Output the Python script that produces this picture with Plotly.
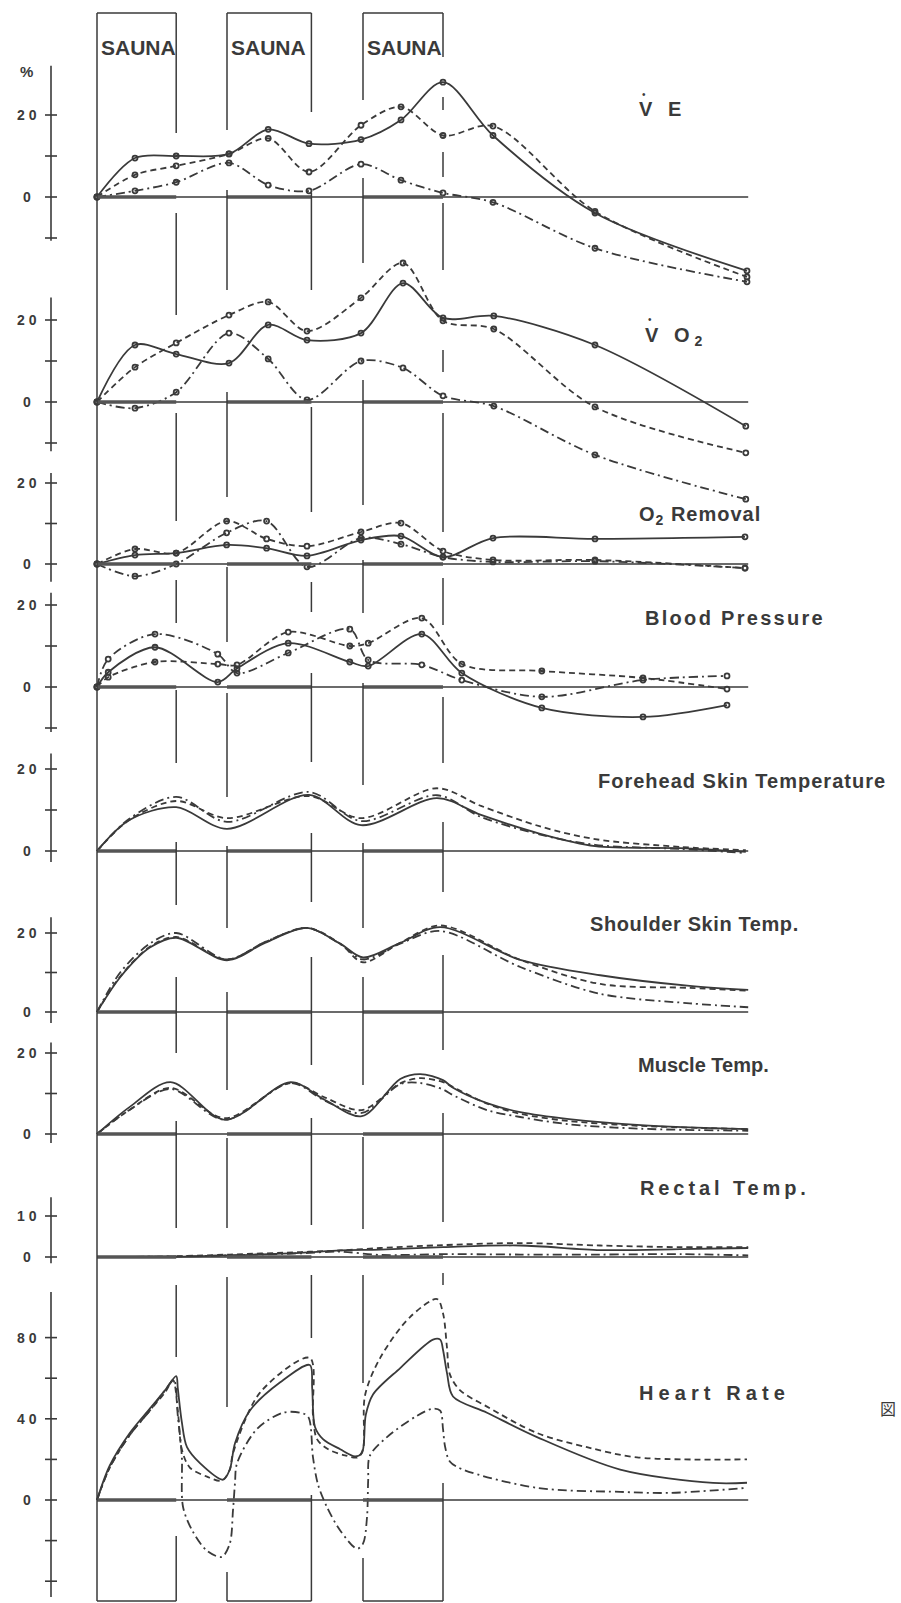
import plotly.graph_objects as go

W, H = 901, 1603
INK = "#3a3a3a"

# ---------------- data (time in minutes, values in % change) ----------------
SAUNA = [(0.0, 9.9), (16.25, 26.8), (33.25, 43.25)]
T_END = 81.4

ve_t = [0, 4.75, 9.9, 16.5, 21.4, 26.5, 33, 38, 43.25, 49.5, 62.25, 81.25]
ve_solid = [0, 9.5, 10, 10.5, 16.5, 13, 14, 18.8, 28, 15, -3.9, -18]
ve_dash = [0, 5.4, 7.6, 10.5, 14.3, 6.1, 17.5, 22, 15, 17.3, -3.5, -19.5]
ve_dot = [0, 1.5, 3.6, 8.3, 2.9, 1.5, 8, 4.1, 1, -1.3, -12.5, -20.7]

vo2_t = [0, 4.75, 9.9, 16.5, 21.4, 26.25, 33, 38.25, 43.25, 49.6, 62.25, 81.1]
vo2_solid = [0, 13.9, 11.7, 9.5, 18.8, 15.1, 16.8, 29, 20.5, 21, 13.9, -5.9]
vo2_dash = [0, 8.5, 14.4, 21.2, 24.4, 17.3, 25.4, 33.9, 19.8, 17.8, -1.2, -12.4]
vo2_dot = [0, -1.5, 2.4, 16.8, 10.5, 0.5, 10, 8.3, 1.5, -1, -12.9, -23.7]

o2_t = [0, 4.75, 9.9, 16.2, 21.2, 26.25, 33, 38, 43.25, 49.5, 62.25, 81]
o2_solid = [0, 2.2, 2.7, 4.7, 3.9, 2, 5.9, 6.9, 1.7, 6.4, 6.2, 6.7]
o2_dash = [0, 3.7, 2.7, 10.6, 6.2, 4.4, 7.9, 10.1, 3.2, 1, 1, -1]
o2_dot = [0, -3, 0, 7.7, 10.6, -0.7, 6.4, 4.9, 1.7, 0.5, 0.7, -1]

bp_t = [0, 1.4, 7.25, 15.1, 17.5, 23.9, 31.6, 33.9, 40.6, 45.6, 55.6, 68.25, 78.75]
bp_solid = [0, 3.6, 9.7, 1.2, 4.5, 10.7, 6.1, 5.1, 12.9, 3.4, -5.1, -7.3, -4.4]
bp_dash = [0, 2.4, 6.1, 5.6, 5.4, 13.4, 10, 10.7, 16.8, 5.6, 3.9, 2.2, -0.5]
bp_dot = [0, 6.8, 12.9, 8, 3.4, 8.3, 14.1, 6.6, 5.4, 1.7, -2.4, 1.7, 2.7]

fh_t = [0, 4, 9.9, 16.25, 26.5, 33, 42.5, 48, 55.4, 62.25, 72.9, 81.1]
fh_solid = [0, 7.5, 10.7, 5.4, 13.7, 6.3, 12.9, 8.8, 4.2, 1.2, 0.7, -0.2]
fh_dash = [0, 7.5, 12.2, 8, 13.4, 8, 15.3, 11, 6.0, 2.9, 1, 0.2]
fh_dot = [0, 7.8, 13.2, 7.1, 14.4, 7.3, 13.6, 8.3, 4.0, 1.5, 0.5, -0.5]

sh_t = [0, 2.9, 6.6, 9.9, 16.25, 21, 26.25, 30.4, 33.25, 37.9, 42.9, 52.9, 62.9, 74.1, 81.4]
sh_solid = [0, 8.8, 16.3, 18.8, 13.1, 17.5, 21.3, 17.3, 13.8, 17.5, 21.5, 13.2, 9.3, 6.6, 5.6]
sh_dash = [0, 9, 16.5, 19, 13.3, 17.7, 21.3, 17.3, 12.6, 17.5, 21.9, 13.2, 7.1, 6.1, 5.4]
sh_dot = [0, 10, 17.3, 20, 13.3, 17.7, 21.3, 17.2, 13.3, 17.3, 20.5, 11.4, 4.6, 2.2, 1.2]

mu_t = [0, 4.1, 9.2, 16, 24.2, 28.5, 33.1, 37.9, 40.4, 43.25, 44.5, 48.75, 52.9, 59, 68, 81.4]
mu_solid = [0, 6.7, 12.8, 3.5, 12.8, 8.4, 4.4, 13.6, 14.8, 13.3, 11.4, 7.6, 5.4, 3.7, 2.2, 1.2]
mu_dash = [0, 6.0, 11.4, 3.9, 12.6, 9.0, 5.9, 12.5, 13.8, 12.8, 11.6, 7.5, 5.0, 3.2, 2.0, 1.2]
mu_dot = [0, 6.0, 11.1, 3.5, 12.6, 8.2, 5.2, 12.3, 12.6, 11.0, 9.6, 5.9, 4.2, 2.4, 1.3, 0.8]

re_t = [0, 7.9, 16.6, 25.4, 30.4, 35.4, 43.25, 52.9, 62.9, 72.9, 81.4]
re_solid = [0, 0, 0.4, 1.0, 1.6, 1.8, 2.4, 2.8, 1.7, 1.9, 2.2]
re_dash = [0, 0.1, 0.6, 1.2, 1.6, 2.2, 2.9, 3.4, 2.8, 2.4, 2.4]
re_dot = [0, 0.1, 0.4, 0.9, 1.3, 0.5, 0.7, 0.6, 0.6, 0.7, 0.4]

hr_solid_t = [0, 1.6, 4.1, 6.6, 8.5, 9.9, 10.1, 10.6, 11.25, 12.9, 15.75, 16.6, 17.25, 19.1, 22.9,
              26.6, 26.9, 27.25, 28.25, 30.4, 32.25, 33.1, 33.6, 34.5, 37.9, 42, 42.9, 43.25, 43.75,
              44.5, 48.75, 55, 65.4, 77, 81.25]
hr_solid = [0, 17, 33, 45, 54, 61, 55, 38.5, 26, 18, 10, 15, 28, 44, 58,
            66.5, 55, 36, 30, 25, 21.5, 23, 42, 52, 65, 79, 79, 74, 62.5,
            51, 43, 31, 15, 8.4, 8.5]
hr_dash_t = [0, 1.6, 4.1, 6.6, 8.5, 9.5, 10.1, 10.6, 11.6, 13.75, 15.6, 16.6, 17, 20.4, 26.6,
             27, 27.5, 28.9, 31, 32.6, 33.25, 33.5, 35.4, 39.1, 42.5, 43.25, 43.75, 44.1, 45.4,
             48.75, 55, 61.25, 67.5, 81.25]
hr_dash = [0, 16, 32, 44, 53, 59, 44, 25, 16, 11.5, 9.5, 15, 23, 53, 70,
           41.5, 30, 25, 22, 21, 25, 51.5, 70, 90, 99, 92, 75, 62, 54,
           46, 33, 26, 21, 20]
hr_dot_t = [0, 1.6, 4.1, 6.6, 8.5, 9.6, 10.1, 10.6, 10.75, 11.9, 13.75, 15.6, 16.6, 17, 17.25,
            17.5, 20, 23.25, 25.4, 26.4, 27, 27.6, 28.75, 30.4, 32.5, 33.25, 33.75, 33.9, 34.1,
            36.25, 40, 42, 42.9, 43.25, 43.5, 44.1, 45.75, 55, 65.4, 71.6, 81.25]
hr_dot = [0, 16, 32, 44, 54, 59, 41.6, 21.7, -3.3, -15, -25, -28, -21.5, -5, 8.4,
          18, 35, 43, 43, 41, 21, 8, -3.5, -15, -24, -21.5, -8.5, 10, 21.7,
          31, 41.5, 45, 44, 35, 26.5, 19, 15, 6, 4, 3.5, 6]

# ---------------- layout helpers ----------------
PX_PER_MIN = 8.0
X0_PX = 97


def py(px):
    return 1 - px / H


def pxx(px):
    return px / W


panels = [
    dict(zero=197, s=4.1, top=20, bot=295, ax=(-10.7, 32), ticks=[-10, 0, 10, 20], labels={0: "0", 20: "20"},
         series=[(ve_t, ve_solid), (ve_t, ve_dash), (ve_t, ve_dot)], mk=True),
    dict(zero=402, s=4.1, top=250, bot=515, ax=(-12, 25.5), ticks=[-10, 0, 10, 20], labels={0: "0", 20: "20"},
         series=[(vo2_t, vo2_solid), (vo2_t, vo2_dash), (vo2_t, vo2_dot)], mk=True),
    dict(zero=564, s=4.05, top=470, bot=582, ax=(-4.4, 22.5), ticks=[0, 10, 20], labels={0: "0", 20: "20"},
         series=[(o2_t, o2_solid), (o2_t, o2_dash), (o2_t, o2_dot)], mk=True),
    dict(zero=687, s=4.1, top=585, bot=738, ax=(-11, 23), ticks=[-10, 0, 10, 20], labels={0: "0", 20: "20"},
         series=[(bp_t, bp_solid), (bp_t, bp_dash), (bp_t, bp_dot)], mk=True),
    dict(zero=851, s=4.1, top=750, bot=872, ax=(-2.7, 23.8), ticks=[0, 10, 20], labels={0: "0", 20: "20"},
         series=[(fh_t, fh_solid), (fh_t, fh_dash), (fh_t, fh_dot)], mk=False),
    dict(zero=1012, s=3.95, top=900, bot=1026, ax=(-2.8, 24), ticks=[0, 10, 20], labels={0: "0", 20: "20"},
         series=[(sh_t, sh_solid), (sh_t, sh_dash), (sh_t, sh_dot)], mk=False),
    dict(zero=1134, s=4.05, top=1035, bot=1146, ax=(-2.2, 22.6), ticks=[0, 10, 20], labels={0: "0", 20: "20"},
         series=[(mu_t, mu_solid), (mu_t, mu_dash), (mu_t, mu_dot)], mk=False),
    dict(zero=1257, s=4.1, top=1190, bot=1268, ax=(-1.5, 14.6), ticks=[0, 10], labels={0: "0", 10: "10"},
         series=[(re_t, re_solid), (re_t, re_dash), (re_t, re_dot)], mk=False),
    dict(zero=1500, s=2.03, top=1285, bot=1600, ax=(-47.8, 102.5), ticks=[-40, -20, 0, 20, 40, 60, 80],
         labels={0: "0", 40: "40", 80: "80"},
         series=[(hr_solid_t, hr_solid), (hr_dash_t, hr_dash), (hr_dot_t, hr_dot)], mk=False),
]

DASHES = ["solid", "6px,4px", "9px,4px,2px,4px"]

fig = go.Figure()
shapes = []
annotations = []
layout_axes = {}

for i, p in enumerate(panels):
    k = i + 1
    yname = "y" if k == 1 else f"y{k}"
    lname = "yaxis" if k == 1 else f"yaxis{k}"
    rmin = -(p["bot"] - p["zero"]) / p["s"]
    rmax = (p["zero"] - p["top"]) / p["s"]
    layout_axes[lname] = dict(domain=[py(p["bot"]), py(p["top"])], range=[rmin, rmax], visible=False,
                              anchor="x", fixedrange=True)
    for (t, v), dsh in zip(p["series"], DASHES):
        fig.add_trace(go.Scatter(
            x=t, y=v, xaxis="x", yaxis=yname,
            mode="lines+markers" if p["mk"] else "lines",
            line=dict(color=INK, width=1.8, dash=dsh, shape="spline", smoothing=0.9),
            marker=dict(symbol="circle-open", size=5, color=INK, line=dict(width=1.8, color=INK)),
            showlegend=False, hoverinfo="skip"))
    # zero line and sauna bars
    shapes.append(dict(type="line", xref="x", yref=yname, x0=0, x1=T_END, y0=0, y1=0,
                       line=dict(color=INK, width=1.4)))
    for a, b in SAUNA:
        shapes.append(dict(type="line", xref="x", yref=yname, x0=a, x1=b, y0=0, y1=0,
                           line=dict(color="#555", width=3.5)))
    # left axis line, ticks, labels
    shapes.append(dict(type="line", xref="paper", yref=yname, x0=pxx(51), x1=pxx(51),
                       y0=p["ax"][0], y1=p["ax"][1], line=dict(color=INK, width=1.6)))
    for tv in p["ticks"]:
        shapes.append(dict(type="line", xref="paper", yref=yname, x0=pxx(45), x1=pxx(57),
                           y0=tv, y1=tv, line=dict(color=INK, width=1.6)))
    for tv, txt in p["labels"].items():
        annotations.append(dict(xref="paper", yref=yname, x=pxx(29), y=tv,
                                text=f'<span style="letter-spacing:4px">{txt}</span>', showarrow=False,
                                xanchor="center", yanchor="middle",
                                font=dict(family="Liberation Sans", size=14, color=INK, weight="bold")))

annotations.append(dict(xref="paper", yref="paper", x=pxx(26), y=py(72), text="%", showarrow=False,
                        xanchor="center", yanchor="middle",
                        font=dict(family="Liberation Sans", size=15, color=INK, weight="bold")))

# sauna boxes: vertical boundary segments (pixel rows), top and bottom boxes
bounds = [SAUNA[0][0], SAUNA[0][1], SAUNA[1][0], SAUNA[1][1], SAUNA[2][0], SAUNA[2][1]]
segs = [
    [(13, 1601)],
    [(13, 133), (213, 315), (413, 521), (580, 623), (690, 763), (842, 905), (977, 1053), (1121, 1228),
     (1285, 1357), (1536, 1601)],
    [(13, 130), (190, 290), (392, 497), (567, 642), (693, 797), (846, 928), (992, 1090), (1138, 1228),
     (1277, 1407), (1572, 1601)],
    [(13, 112), (193, 290), (407, 512), (582, 612), (673, 762), (833, 902), (957, 1065), (1118, 1225),
     (1275, 1338), (1495, 1601)],
    [(13, 100), (178, 263), (380, 505), (560, 613), (683, 785), (843, 928), (977, 1085), (1137, 1229),
     (1275, 1383), (1558, 1601)],
    [(13, 57), (97, 110), (152, 177), (203, 270), (350, 372), (413, 532), (578, 625), (697, 763),
     (822, 892), (955, 1050), (1113, 1222), (1273, 1285), (1483, 1601)],
]
for bx, sl in zip(bounds, segs):
    for a, b in sl:
        shapes.append(dict(type="line", xref="x", yref="paper", x0=bx, x1=bx, y0=py(a), y1=py(b),
                           line=dict(color=INK, width=1.5)))
for a, b in SAUNA:
    shapes.append(dict(type="line", xref="x", yref="paper", x0=a, x1=b, y0=py(13), y1=py(13),
                       line=dict(color=INK, width=1.5)))
    shapes.append(dict(type="line", xref="x", yref="paper", x0=a, x1=b, y0=py(1601), y1=py(1601),
                       line=dict(color=INK, width=1.5)))
    annotations.append(dict(xref="x", yref="paper", x=a, y=py(47), xshift=2, text="SAUNA", showarrow=False,
                            xanchor="left", yanchor="middle",
                            font=dict(family="Liberation Sans", size=21, color=INK, weight="bold")))

# panel titles
titles = [
    ("V E", 637, 109, 5),
    ("V O<sub>2</sub>", 643, 337, 5),
    ("O<sub>2</sub> Removal", 637, 515, 1),
    ("Blood Pressure", 643, 618, 2.3),
    ("Forehead Skin Temperature", 596, 781, 1.0),
    ("Shoulder Skin Temp.", 588, 924, 0.6),
    ("Muscle Temp.", 636, 1065, 0),
    ("Rectal Temp.", 638, 1188, 3.9),
    ("Heart Rate", 637, 1393, 5.1),
]
for txt, x, y, ls in titles:
    annotations.append(dict(xref="paper", yref="paper", x=pxx(x), y=py(y),
                            text=f'<span style="letter-spacing:{ls}px">{txt}</span>',
                            showarrow=False, xanchor="left", yanchor="middle",
                            font=dict(family="Liberation Sans", size=20, color=INK, weight="bold")))
# dots above the V of V-dot symbols
for x, y in [(644, 94), (650, 320)]:
    annotations.append(dict(xref="paper", yref="paper", x=pxx(x), y=py(y), text="\u2022", showarrow=False,
                            xanchor="center", yanchor="middle",
                            font=dict(family="Liberation Sans", size=10, color=INK)))

annotations.append(dict(xref="paper", yref="paper", x=pxx(888), y=py(1408), text="図", showarrow=False,
                        xanchor="center", yanchor="middle",
                        font=dict(family="Noto Sans CJK JP", size=16, color=INK)))

fig.update_layout(
    width=W, height=H, margin=dict(l=0, r=0, t=0, b=0, pad=0),
    paper_bgcolor="white", plot_bgcolor="rgba(0,0,0,0)",
    xaxis=dict(domain=[0, 1], range=[-X0_PX / PX_PER_MIN, (W - X0_PX) / PX_PER_MIN], visible=False,
               fixedrange=True),
    shapes=shapes, annotations=annotations, showlegend=False,
    **layout_axes,
)

fig.write_html("out.html")
